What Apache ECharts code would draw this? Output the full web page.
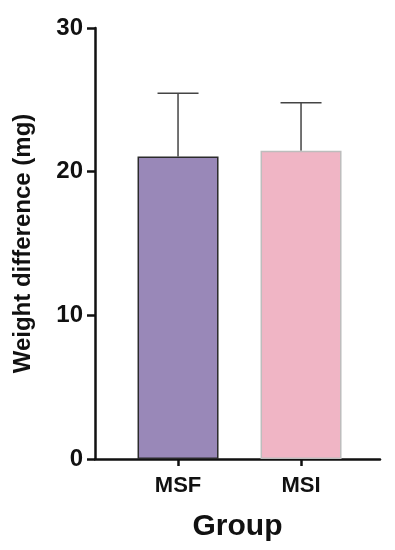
<!DOCTYPE html>
<html><head><meta charset="utf-8">
<script src="https://cdn.jsdelivr.net/npm/echarts@6/dist/echarts.min.js"></script>
<style>html,body{margin:0;padding:0;background:#fff}#c{width:395px;height:550px}</style>
</head><body><div id="c"></div>
<script>
const categories = ['MSF', 'MSI'];
const means = [21.05, 21.45];
const errUpper = [25.45, 24.8];
const yTicks = [0, 10, 20, 30];
const barColors = ['#9988B8', '#F0B5C5'];
const borderColors = ['#2b2b2b', '#bdbdbd'];

const positions = categories.map((c, i) => i);
const chart = echarts.init(document.getElementById('c'));
const font = '"Liberation Sans", Arial, sans-serif';
chart.setOption({
  animation: false,
  backgroundColor: '#fff',
  grid: { left: 95, right: 15, top: 28, bottom: 91 },
  xAxis: {
    type: 'value', min: -0.675, max: 1.642,
    name: 'Group', nameLocation: 'middle', nameGap: 53,
    nameTextStyle: { fontFamily: font, fontWeight: 'bold', fontSize: 30, color: '#111' },
    axisLine: { onZero: false, lineStyle: { color: '#111', width: 2.5 } },
    axisTick: { show: true, customValues: positions, length: 7, lineStyle: { color: '#111', width: 2.5 } },
    axisLabel: { customValues: positions, formatter: v => categories[Math.round(v)], margin: 16,
      fontFamily: font, fontWeight: 'bold', fontSize: 22, color: '#111' },
    splitLine: { show: false }
  },
  yAxis: {
    type: 'value', min: 0, max: 30, interval: 10,
    name: 'Weight difference (mg)', nameLocation: 'middle', nameGap: 60,
    nameTextStyle: { fontFamily: font, fontWeight: 'bold', fontSize: 24, color: '#111' },
    axisLine: { show: true, onZero: false, lineStyle: { color: '#111', width: 2.5 } },
    axisTick: { show: true, length: 8, lineStyle: { color: '#111', width: 2.5 } },
    axisLabel: { margin: 12, fontFamily: font, fontWeight: 'bold', fontSize: 24, color: '#111',
      formatter: v => yTicks.includes(v) ? String(v) : '' },
    splitLine: { show: false }
  },
  series: [
    {
      type: 'custom',
      z: 1,
      renderItem: (params, api) => {
        const x = api.value(0);
        const top = api.coord([x, api.value(2)]);
        const base = api.coord([x, api.value(1)]);
        const half = 20.5;
        const st = { stroke: '#444', lineWidth: 1.5 };
        return { type: 'group', children: [
          { type: 'line', shape: { x1: top[0], y1: top[1], x2: base[0], y2: base[1] }, style: st },
          { type: 'line', shape: { x1: top[0] - half, y1: top[1], x2: top[0] + half, y2: top[1] }, style: st }
        ]};
      },
      data: positions.map((p, i) => [p, means[i], errUpper[i]])
    },
    {
      type: 'bar',
      z: 2,
      barWidth: 81,
      data: positions.map((p, i) => ({ value: [p, means[i]],
        itemStyle: { color: barColors[i], borderColor: borderColors[i], borderWidth: 1.5 } }))
    }
  ]
});
</script></body></html>
